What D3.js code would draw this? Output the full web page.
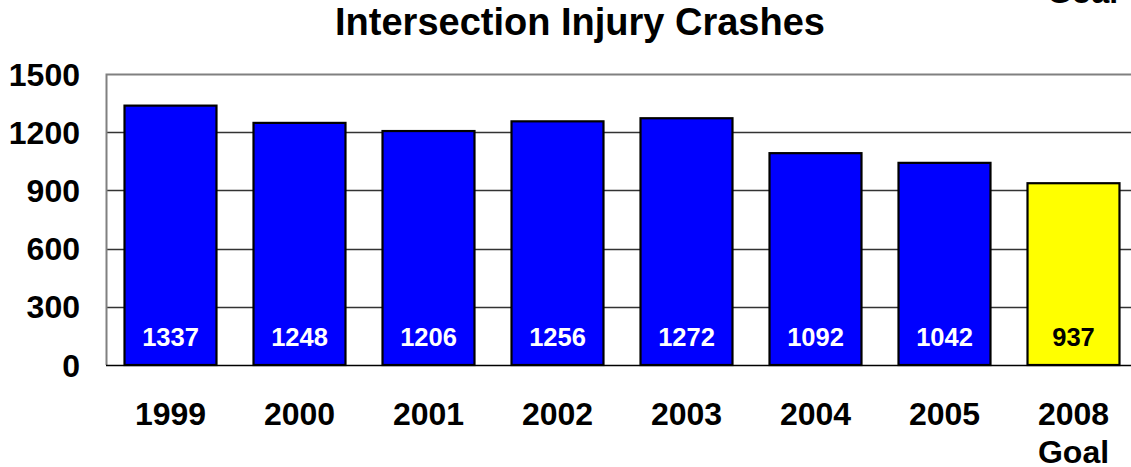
<!DOCTYPE html>
<html>
<head>
<meta charset="utf-8">
<script src="https://cdn.jsdelivr.net/npm/d3@7"></script>
<style>
  body { margin: 0; background: #fff; }
  text { font-family: "Liberation Sans", Arial, sans-serif; font-weight: bold; }
</style>
</head>
<body>
<div class="chart"></div>
<script>
var svgWidth = 1131;
var svgHeight = 467;

// data
var years = ["1999", "2000", "2001", "2002", "2003", "2004", "2005", "2008"];
var crashes = [1337, 1248, 1206, 1256, 1272, 1092, 1042, 937];
var goalYear = "2008";
var yTicks = [0, 300, 600, 900, 1200, 1500];

var plot = { left: 106, right: 1138, top: 74, bottom: 365 };

var svg = d3.select(".chart")
  .append("svg")
  .attr("width", svgWidth)
  .attr("height", svgHeight);

var data = years.map(function(y, i) { return { year: y, value: crashes[i] }; });

var xScale = d3.scaleBand()
  .domain(years)
  .range([plot.left, plot.right])
  .paddingInner(0.287)
  .paddingOuter(0.1435);

var yScale = d3.scaleLinear()
  .domain([0, 1500])
  .range([plot.bottom, plot.top]);

// gridlines
svg.append("g")
  .selectAll("line")
  .data(yTicks.filter(d => d > 0 && d < 1500))
  .enter()
  .append("line")
  .attr("x1", plot.left)
  .attr("x2", plot.right)
  .attr("y1", d => Math.round(yScale(d)) + 0.5)
  .attr("y2", d => Math.round(yScale(d)) + 0.5)
  .attr("stroke", "#333")
  .attr("stroke-width", 1.3);

// plot border (top + left)
svg.append("path")
  .attr("d", `M${plot.left + 0.5},${plot.bottom} V${plot.top + 0.5} H${plot.right}`)
  .attr("fill", "none")
  .attr("stroke", "#808080")
  .attr("stroke-width", 2);

// bars
svg.append("g")
  .selectAll("rect")
  .data(data)
  .enter()
  .append("rect")
  .attr("x", d => xScale(d.year))
  .attr("y", d => yScale(d.value))
  .attr("width", xScale.bandwidth())
  .attr("height", d => yScale(0) - yScale(d.value))
  .attr("fill", d => d.year === goalYear ? "#ffff00" : "#0000ff")
  .attr("stroke", "#000")
  .attr("stroke-width", 2.2);

// bottom axis line
svg.append("line")
  .attr("x1", plot.left)
  .attr("x2", plot.right)
  .attr("y1", plot.bottom + 0.5)
  .attr("y2", plot.bottom + 0.5)
  .attr("stroke", "#000")
  .attr("stroke-width", 1.5);

// value labels inside bars
svg.append("g")
  .selectAll("text")
  .data(data)
  .enter()
  .append("text")
  .attr("x", d => xScale(d.year) + xScale.bandwidth() / 2)
  .attr("y", 346)
  .attr("text-anchor", "middle")
  .attr("font-size", 25.5)
  .attr("fill", d => d.year === goalYear ? "#000" : "#fff")
  .text(d => d.value);

// y tick labels
svg.append("g")
  .selectAll("text")
  .data(yTicks)
  .enter()
  .append("text")
  .attr("x", 80)
  .attr("y", d => yScale(d) + 11.5)
  .attr("text-anchor", "end")
  .attr("font-size", 32)
  .attr("fill", "#000")
  .text(d => d);

// x category labels
var xLabels = svg.append("g")
  .selectAll("text")
  .data(years)
  .enter()
  .append("text")
  .attr("x", d => xScale(d) + xScale.bandwidth() / 2)
  .attr("y", 425)
  .attr("text-anchor", "middle")
  .attr("font-size", 32)
  .attr("fill", "#000");

xLabels.append("tspan").text(d => d);
xLabels.filter(d => d === goalYear)
  .append("tspan")
  .attr("x", d => xScale(d) + xScale.bandwidth() / 2)
  .attr("dy", 38)
  .text("Goal");

// title
svg.append("text")
  .attr("x", 580)
  .attr("y", 35)
  .attr("text-anchor", "middle")
  .attr("font-size", 38)
  .attr("fill", "#000")
  .text("Intersection Injury Crashes");

// stray "Goal" clipped at the top edge
svg.append("text")
  .attr("x", xScale(goalYear) + xScale.bandwidth() / 2 + 9)
  .attr("y", 3)
  .attr("text-anchor", "middle")
  .attr("font-size", 32)
  .attr("fill", "#000")
  .text("Goal");
</script>
</body>
</html>
